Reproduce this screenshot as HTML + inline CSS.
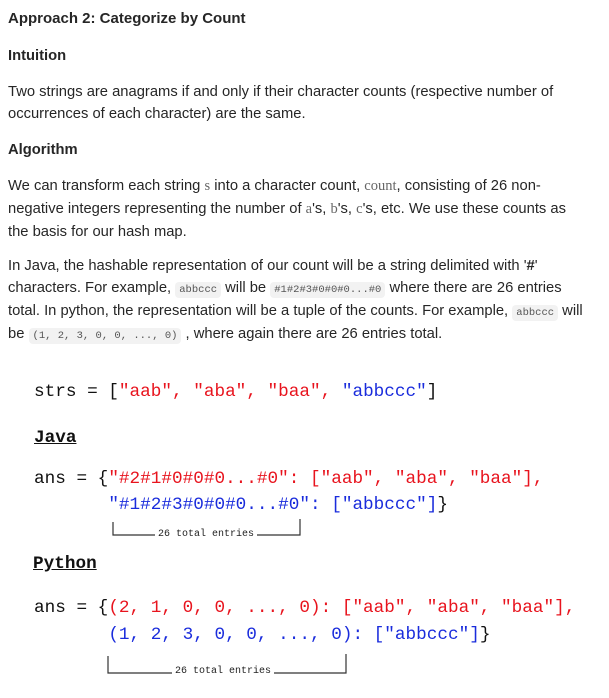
<!DOCTYPE html>
<html><head><style>
body{margin:0;width:609px;height:698px;background:#fff;position:relative;font-family:"Liberation Sans",sans-serif;color:#262626;overflow:hidden}
.t{position:absolute;left:8px;font-size:14.75px;white-space:nowrap}
.b{font-weight:bold}
.c{font-family:"Liberation Mono",monospace;font-size:10.5px;background:#f2f2f2;border-radius:4px;padding:2px 4px;color:#555}
.s{font-family:"Liberation Serif",serif;color:#666;font-size:14.5px}
.m{position:absolute;font-family:"Liberation Mono","DejaVu Sans Mono",monospace;font-size:17.7px;white-space:pre;color:#111}
.r{color:#e8141e}.u{color:#1a2cdc}
.h{font-weight:bold;text-decoration:underline}
.sm{position:absolute;font-family:"Liberation Mono",monospace;font-size:10px;color:#222;background:#fff;padding:0 3px}
</style></head><body>
<div class="t b" style="top:10px;font-size:15px">Approach 2: Categorize by Count</div>
<div class="t b" style="top:48px">Intuition</div>
<div class="t" style="top:84px">Two strings are anagrams if and only if their character counts (respective number of</div>
<div class="t" style="top:106px">occurrences of each character) are the same.</div>
<div class="t b" style="top:142px">Algorithm</div>
<div class="t" style="top:178px">We can transform each string <span class="s">s</span> into a character count, <span class="s">count</span>, consisting of 26 non-</div>
<div class="t" style="top:201px">negative integers representing the number of <span class="s">a</span>'s, <span class="s">b</span>'s, <span class="s">c</span>'s, etc. We use these counts as</div>
<div class="t" style="top:224px">the basis for our hash map.</div>
<div class="t" style="top:258px">In Java, the hashable representation of our count will be a string delimited with '<b>#</b>'</div>
<div class="t" style="top:280px">characters. For example, <span class="c">abbccc</span> will be <span class="c">#1#2#3#0#0#0...#0</span> where there are 26 entries</div>
<div class="t" style="top:303px">total. In python, the representation will be a tuple of the counts. For example, <span class="c">abbccc</span> will</div>
<div class="t" style="top:326px">be <span class="c">(1, 2, 3, 0, 0, ..., 0)</span> , where again there are 26 entries total.</div>

<div class="m" style="left:34px;top:382px">strs = [<span class="r">"aab", "aba", "baa",</span> <span class="u">"abbccc"</span>]</div>
<div class="m h" style="left:34px;top:428px">Java</div>
<div class="m" style="left:34px;top:469px">ans = {<span class="r">"#2#1#0#0#0...#0": ["aab", "aba", "baa"],</span></div>
<div class="m" style="left:34px;top:495px">       <span class="u">"#1#2#3#0#0#0...#0": ["abbccc"]</span>}</div>
<svg style="position:absolute;left:0;top:0" width="609" height="698">
<path d="M113 522 V535 H300 V519" fill="none" stroke="#333" stroke-width="1.2"/>
<path d="M108 656 V673 H346 V654" fill="none" stroke="#333" stroke-width="1.2"/>
</svg>
<div class="sm" style="left:155px;top:529px">26 total entries</div>
<div class="m h" style="left:33px;top:554px">Python</div>
<div class="m" style="left:34px;top:598px">ans = {<span class="r">(2, 1, 0, 0, ..., 0): ["aab", "aba", "baa"],</span></div>
<div class="m" style="left:34px;top:625px">       <span class="u">(1, 2, 3, 0, 0, ..., 0): ["abbccc"]</span>}</div>
<div class="sm" style="left:172px;top:666px">26 total entries</div>
</body></html>
